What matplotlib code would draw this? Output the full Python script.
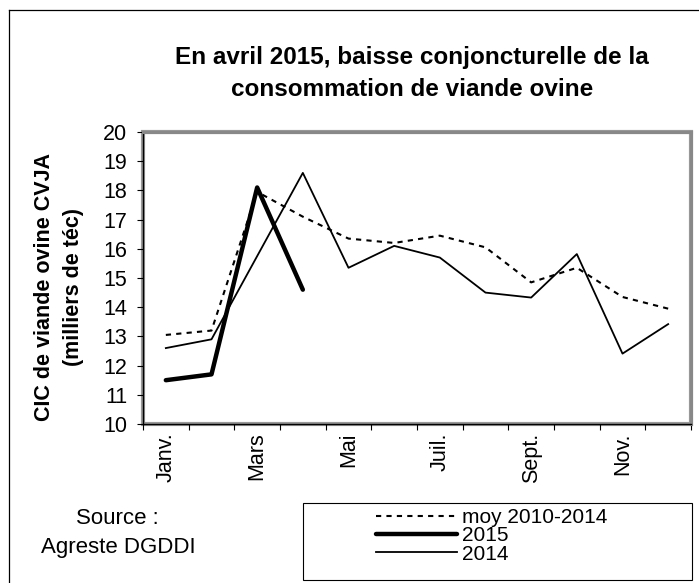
import matplotlib
matplotlib.use("Agg")
import matplotlib.pyplot as plt
from matplotlib.lines import Line2D
from matplotlib.patches import Rectangle
import numpy as np

plt.rcParams['font.family'] = ['Liberation Sans', 'DejaVu Sans']

months = ["Janv.", "Févr.", "Mars", "Avr.", "Mai", "Juin", "Juil.", "Août",
          "Sept.", "Oct.", "Nov.", "Déc."]
moy_2010_2014 = [13.05, 13.2, 17.95, 17.1, 16.35, 16.2, 16.45, 16.05, 14.85, 15.35, 14.35, 13.95]
v2015 = [11.5, 11.7, 18.1, 14.6]
v2014 = [12.6, 12.9, 15.75, 18.6, 15.35, 16.1, 15.7, 14.5, 14.33, 15.82, 12.41, 13.42]
yticks = list(range(10, 21))

W, H = 699, 583
fig = plt.figure(figsize=(W / 100, H / 100), dpi=100)
fig.patch.set_facecolor('white')

L, R, T, B = 143, 691, 132, 424
ax = fig.add_axes([L / W, 1 - B / H, (R - L) / W, (B - T) / H])

x = np.arange(len(months))
ax.plot(x, moy_2010_2014, color='black', lw=1.5, dashes=(2.5, 2.5), label='moy 2010-2014')
ax.plot(x[:len(v2015)], v2015, color='black', lw=3.2, label='2015', solid_capstyle='round')
ax.plot(x, v2014, color='black', lw=1.3, label='2014')

ax.set_xlim(-0.5, len(months) - 0.5)
ax.set_ylim(10, 20)
ax.set_yticks(yticks)
ax.tick_params(axis='y', direction='out', length=4.3, width=0.8, labelsize=15.5, pad=7)

ax.set_xticks(x[::2])
ax.set_xticklabels(months[::2], rotation=90, fontsize=15.5)
ax.set_xticks(np.arange(-0.5, len(months), 1), minor=True)
ax.tick_params(axis='x', which='major', length=0, pad=6)
ax.tick_params(axis='x', which='minor', direction='out', length=4.3, width=0.8)

for s in ['top', 'right']:
    ax.spines[s].set_color('#888888')
    ax.spines[s].set_linewidth(2.2)
for s in ['left', 'bottom']:
    ax.spines[s].set_color('black')
    ax.spines[s].set_linewidth(1.0)
ax.patch.set_edgecolor('#999999')
ax.patch.set_linewidth(3.0)

# Title
fig.text(412 / W, 1 - 73.5 / H,
         "En avril 2015, baisse conjoncturelle de la\nconsommation de viande ovine",
         ha='center', va='center', fontsize=17.5, fontweight='bold', linespacing=1.45)

# Y label
fig.text(59 / W, 1 - 287 / H, "CIC de viande ovine CVJA\n(milliers de téc)",
         rotation=90, ha='center', va='center', fontsize=15.5, fontweight='bold',
         linespacing=1.45, multialignment='center')

# Source
fig.text(117 / W, 1 - 519 / H, "Source :", ha='center', va='center', fontsize=16)
fig.text(118 / W, 1 - 548 / H, "Agreste DGDDI", ha='center', va='center', fontsize=16)

# Outer border (left and top visible)
fig.add_artist(Line2D([9 / W, 9 / W], [0, 1 - 10 / H], color='black', lw=0.9,
                      transform=fig.transFigure))
fig.add_artist(Line2D([9 / W, 1], [1 - 10 / H, 1 - 10 / H], color='black', lw=0.9,
                      transform=fig.transFigure))

# Legend box
fig.add_artist(Rectangle((303 / W, 1 - 580 / H), (692 - 303) / W, (580 - 503) / H,
                         transform=fig.transFigure, fill=False, edgecolor='black', lw=0.8))
handles, labels = ax.get_legend_handles_labels()
fig.legend(handles, labels, loc='upper left', bbox_to_anchor=(376 / W, 1 - 508 / H),
           frameon=False, fontsize=15, handlelength=3.9, handletextpad=0.25,
           labelspacing=-0.03, borderpad=0, borderaxespad=0)

fig.savefig("out.png", dpi=100, facecolor='white')
